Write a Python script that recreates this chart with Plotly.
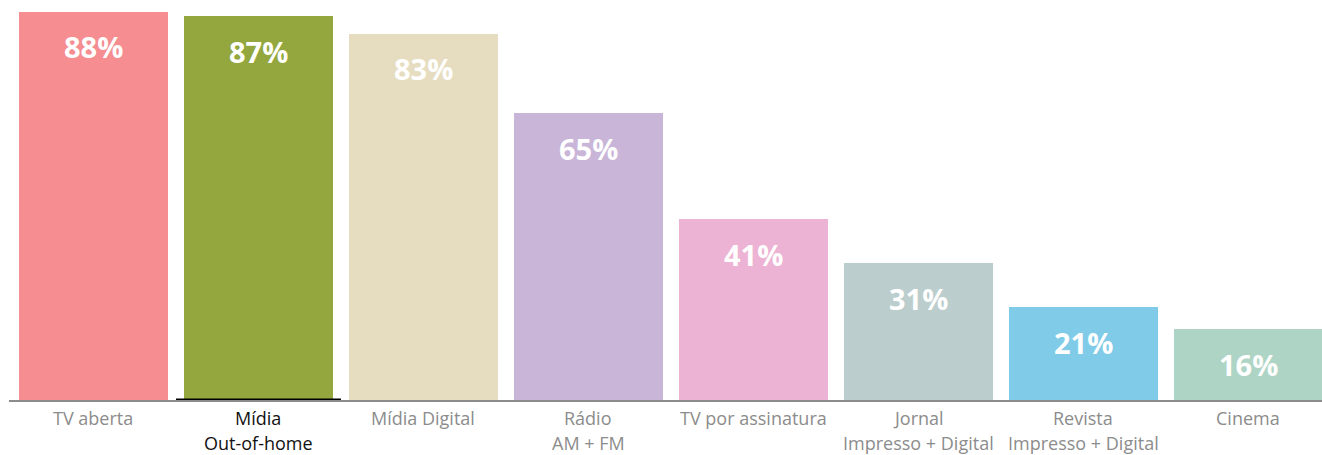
import plotly.graph_objects as go

categories = ["TV aberta", "Mídia<br>Out-of-home", "Mídia Digital", "Rádio<br>AM + FM",
              "TV por assinatura", "Jornal<br>Impresso + Digital", "Revista<br>Impresso + Digital", "Cinema"]
values = [88, 87, 83, 65, 41, 31, 21, 16]
labels = ["88%", "87%", "83%", "65%", "41%", "31%", "21%", "16%"]
colors = ["#F58D91", "#93A73E", "#E6DDC1", "#C8B5D8", "#EDB3D4", "#BCCDCD", "#80CBE8", "#AED4C5"]
highlight = 1

x = list(range(len(categories)))

fig = go.Figure()
fig.add_trace(go.Bar(x=x, y=values, marker=dict(color=colors, line=dict(width=0)),
                     width=149/165, hoverinfo="skip"))

for i, (v, t) in enumerate(zip(values, labels)):
    fig.add_annotation(x=i, y=v, text=f"<b>{t}</b>", showarrow=False, yanchor="middle",
                       yshift=-35, font=dict(family="Open Sans", size=29, color="white"))

for i, c in enumerate(categories):
    col = "#111111" if i == highlight else "#8C8C8C"
    for j, line in enumerate(c.split("<br>")):
        fig.add_annotation(x=i, xref="x", y=0, yref="paper", text=line, showarrow=False,
                           yanchor="middle", yshift=-18 - 25 * j,
                           font=dict(family="Open Sans", size=18, color=col))

fig.add_shape(type="line", xref="x", yref="y", x0=highlight - 0.5, x1=highlight + 0.5,
              y0=0, y1=0, line=dict(color="black", width=3))

fig.update_layout(
    width=1322, height=455,
    margin=dict(l=9, r=0, t=0, b=55),
    plot_bgcolor="white", paper_bgcolor="white",
    showlegend=False, bargap=0,
    xaxis=dict(tickmode="array", tickvals=x, showticklabels=False, range=[-0.512, 7.446],
               showline=True, linecolor="#8C8C8C", linewidth=2, ticks="", showgrid=False,
               zeroline=False),
    yaxis=dict(range=[0, 90.7], visible=False, showgrid=False, zeroline=False),
)

fig.write_html("out.html", config={"displayModeBar": False},
               post_script="document.body.style.margin='0';")
